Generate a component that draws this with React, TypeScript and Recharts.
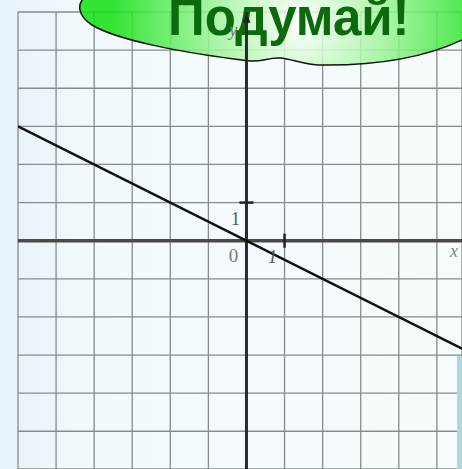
import React from 'react';
import {
  ComposedChart,
  Line,
  XAxis,
  YAxis,
  CartesianGrid,
  ReferenceLine,
  ReferenceDot,
  Customized,
} from 'recharts';

// Function y = -x/2 drawn by two points
const lineX = [-6, 6];
const lineY = [3, -3];
const lineData = lineX.map((x, i) => ({ x, y: lineY[i] }));

const xTicks = [-6, -5, -4, -3, -2, -1, 0, 1, 2, 3, 4, 5];
const yTicks = [-5, -4, -3, -2, -1, 0, 1, 2, 3, 4, 5, 6];
const xDomain: [number, number] = [-6, 5.66];
const yDomain: [number, number] = [-5.99, 6];

const calloutText = 'Подумай!';
const xLabel = 'x';
const yLabel = 'y';
const zeroLabel = '0';
const unitLabel = '1';

const W = 462;
const H = 469;

const Callout = () => (
  <g>
    <defs>
      <radialGradient id="cloudGrad" cx="300" cy="22" r="190" gradientUnits="userSpaceOnUse">
        <stop offset="0%" stopColor="#ffffff" />
        <stop offset="45%" stopColor="#a0f59a" />
        <stop offset="100%" stopColor="#12e012" />
      </radialGradient>
    </defs>
    <path
      d="M 86 -4 C 76 4, 78 16, 92 25 C 115 39, 175 52, 250 61 C 262 62, 270 57, 280 58 C 292 59, 302 64, 318 65 C 380 66, 430 57, 470 36 L 470 -40 L 90 -40 Z"
      fill="url(#cloudGrad)"
      fillOpacity={0.86}
      stroke="#111"
      strokeWidth={1.5}
    />
    <text
      x={168}
      y={35}
      fontFamily="'Liberation Sans', Arial, sans-serif"
      fontWeight="bold"
      fontSize={51}
      fill="#0b6a0b"
    >
      {calloutText}
    </text>
    <rect x={457} y={356} width={5} height={113} fill="#a9d9dd" />
  </g>
);

const serif = "'Liberation Serif', 'DejaVu Serif', serif";

const UpArrow = (p: any) => (
  <polygon
    points={`${p.cx},${p.cy - 3} ${p.cx - 4},${p.cy + 7} ${p.cx + 4},${p.cy + 7}`}
    fill="#222"
  />
);
const HTick = (p: any) => (
  <line x1={p.cx - 7} y1={p.cy} x2={p.cx + 7} y2={p.cy} stroke="#222" strokeWidth={2.5} />
);
const VTick = (p: any) => (
  <line x1={p.cx} y1={p.cy - 7} x2={p.cx} y2={p.cy + 7} stroke="#222" strokeWidth={2.5} />
);
const makeText = (txt: string, dx: number, dy: number, italic: boolean, size: number, color: string) =>
  (p: any) => (
    <text
      x={p.cx + dx}
      y={p.cy + dy}
      textAnchor="middle"
      fontFamily={serif}
      fontStyle={italic ? 'italic' : 'normal'}
      fontSize={size}
      fill={color}
    >
      {txt}
    </text>
  );

export default function App() {
  return (
    <div
      style={{
        position: 'absolute',
        left: 0,
        top: 0,
        width: W,
        height: H,
        background: 'linear-gradient(to right, #e6f3f9 0%, #f3fafd 20%, #f6fbfd 100%)',
        overflow: 'hidden',
      }}
    >
      <ComposedChart
        width={W}
        height={H}
        data={lineData}
        margin={{ top: 12, right: 0, bottom: 0, left: 18 }}
      >
        <XAxis
          type="number"
          dataKey="x"
          domain={xDomain}
          ticks={xTicks}
          allowDataOverflow
          hide
        />
        <YAxis type="number" domain={yDomain} ticks={yTicks} allowDataOverflow hide />
        <CartesianGrid stroke="#858c8d" strokeWidth={1.3} />
        <ReferenceDot
          x={-0.35}
          y={5.5}
          r={0}
          ifOverflow="visible"
          shape={makeText(yLabel, 0, 5, true, 18, '#777')}
        />
        <Customized component={Callout} />
        <ReferenceLine y={0} stroke="#4a4a4a" strokeWidth={3.5} />
        <ReferenceLine x={0} stroke="#2a2a2a" strokeWidth={3} segment={[{ x: 0, y: -6 }, { x: 0, y: 5.75 }]} ifOverflow="visible" />
        <ReferenceDot x={0} y={5.9} r={0} ifOverflow="visible" shape={UpArrow} />
        <ReferenceDot x={0} y={1} r={0} shape={HTick} />
        <ReferenceDot x={1} y={0} r={0} shape={VTick} />
        <ReferenceDot x={0} y={1} r={0} shape={makeText(unitLabel, -11, 22, false, 18, '#555')} />
        <ReferenceDot x={0} y={0} r={0} shape={makeText(zeroLabel, -13, 21, false, 19, '#777')} />
        <ReferenceDot x={1} y={0} r={0} shape={makeText(unitLabel, -12, 22, true, 18, '#555')} />
        <ReferenceDot x={5.45} y={0} r={0} ifOverflow="visible" shape={makeText(xLabel, 0, 16, true, 18, '#888')} />
        <Line
          type="linear"
          dataKey="y"
          stroke="#111"
          strokeWidth={2.5}
          dot={false}
          isAnimationActive={false}
        />
      </ComposedChart>
    </div>
  );
}
